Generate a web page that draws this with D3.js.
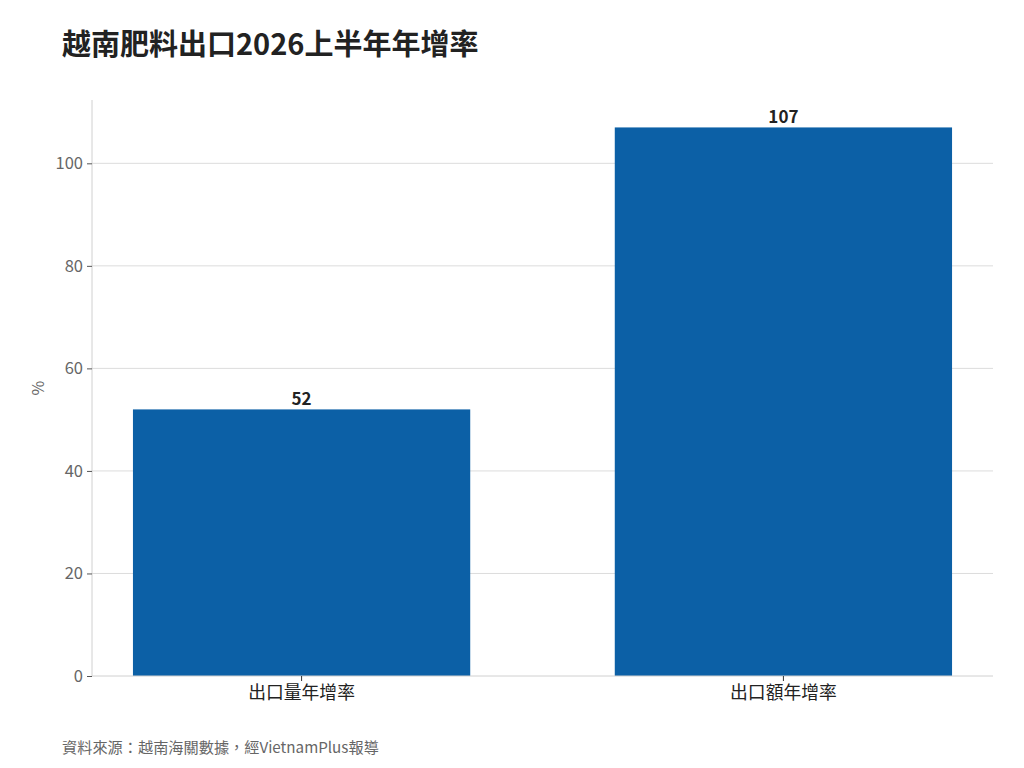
<!DOCTYPE html>
<html><head><meta charset="utf-8">
<script src="https://cdn.jsdelivr.net/npm/d3@7"></script>
<style>
body{margin:0;background:#fff;}
text{font-family:"Noto Sans CJK TC","Noto Sans CJK SC",sans-serif;}
</style></head>
<body><svg id="c" width="1024" height="768"></svg>
<script>
const categories = ["出口量年增率", "出口額年增率"];
const values = [52, 107];
const yTicks = [0, 20, 40, 60, 80, 100];
const titleText = "越南肥料出口2026上半年年增率";
const sourceText = "資料來源：越南海關數據，經VietnamPlus報導";
const yLabel = "%";

const svg = d3.select("#c");
const m = {left: 92, right: 993, top: 100, bottom: 676};
const x = d3.scaleBand().domain(categories).range([m.left, m.right]).paddingInner(0.3).paddingOuter(0.085);
const y = d3.scaleLinear().domain([0, d3.max(values) * 1.05]).range([m.bottom, m.top]);

// grid
svg.append("g").selectAll("line").data(yTicks.filter(d => d > 0)).join("line")
  .attr("x1", m.left).attr("x2", m.right)
  .attr("y1", d => y(d)).attr("y2", d => y(d))
  .attr("stroke", "#dcdcdc").attr("stroke-width", 1);

// bars
svg.append("g").selectAll("rect").data(values).join("rect")
  .attr("x", (d, i) => x(categories[i]))
  .attr("width", x.bandwidth())
  .attr("y", d => y(d))
  .attr("height", d => y(0) - y(d))
  .attr("fill", "#0c60a6");

// value labels
svg.append("g").selectAll("text").data(values).join("text")
  .attr("x", (d, i) => x(categories[i]) + x.bandwidth() / 2)
  .attr("y", d => y(d) - 4)
  .attr("text-anchor", "middle")
  .attr("font-size", 17).attr("font-weight", "bold").attr("fill", "#222")
  .text(d => d);

// y axis
const ya = svg.append("g").attr("transform", `translate(${m.left},0)`)
  .call(d3.axisLeft(y).tickValues(yTicks).tickSize(5).tickPadding(4));
ya.select(".domain").attr("stroke", "#d0d0d0").attr("d", `M0,${m.top}V${m.bottom}`);
ya.selectAll(".tick line").attr("stroke", "#555");
ya.selectAll(".tick text").attr("font-size", 16.5).attr("fill", "#666")
  .style("font-family", '"Noto Sans CJK TC",sans-serif');

// x axis
const xa = svg.append("g").attr("transform", `translate(0,${m.bottom})`)
  .call(d3.axisBottom(x).tickSize(5).tickPadding(5));
xa.select(".domain").attr("stroke", "#d0d0d0").attr("d", `M${m.left},0H${m.right}`);
xa.selectAll(".tick line").attr("stroke", "#333");
xa.selectAll(".tick text").attr("font-size", 17.8).attr("fill", "#222")
  .style("font-family", '"Noto Sans CJK TC",sans-serif');

// y label
svg.append("text").attr("transform", `translate(44,${(m.top + m.bottom) / 2 - 0}) rotate(-90)`)
  .attr("text-anchor", "middle").attr("font-size", 16).attr("fill", "#666").text(yLabel);

// title
svg.append("text").attr("x", 62).attr("y", 55).attr("font-size", 29).attr("font-weight", "bold")
  .attr("fill", "#222").text(titleText);

// source
svg.append("text").attr("x", 62).attr("y", 753).attr("font-size", 15.2).attr("fill", "#666").text(sourceText);
</script></body></html>
